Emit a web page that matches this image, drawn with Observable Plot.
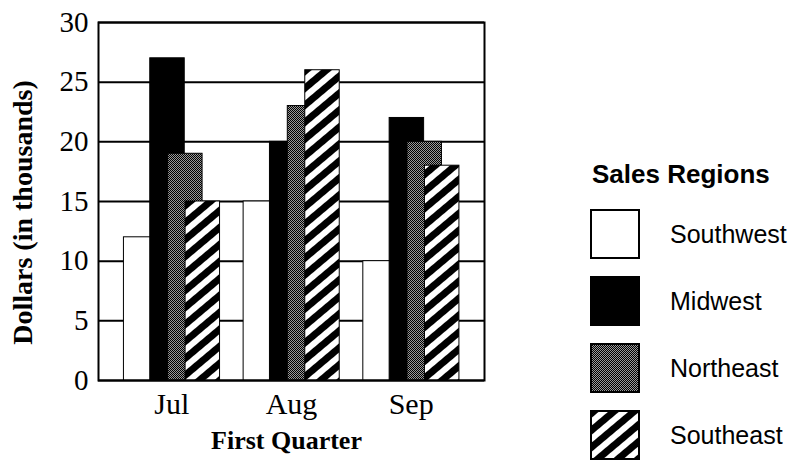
<!DOCTYPE html>
<html>
<head>
<meta charset="utf-8">
<script src="https://cdn.jsdelivr.net/npm/d3@7"></script>
<script src="https://cdn.jsdelivr.net/npm/@observablehq/plot@0.6"></script>
<style>
  body { margin: 0; background: #fff; }
  #wrap { position: relative; width: 796px; height: 460px; overflow: hidden; background: #fff; }
  #legend { position: absolute; left: 0; top: 0; width: 796px; height: 460px; pointer-events: none;
            font-family: "Liberation Sans", Arial, sans-serif; color: #000; }
  #legend .title { position: absolute; left: 592px; top: 159px; font-size: 26px; font-weight: bold; line-height: 30px; }
  #legend .item { position: absolute; left: 590px; width: 206px; height: 50px; }
  #legend .item svg { position: absolute; left: 0; top: 0; }
  #legend .item span { position: absolute; left: 80px; top: 0; line-height: 50px; font-size: 25px; white-space: nowrap; }
</style>
</head>
<body>
<div id="wrap"><div id="legend"></div></div>
<script>
// ---- data ----
const months = ["Jul", "Aug", "Sep"];
const regions = ["Southwest", "Midwest", "Northeast", "Southeast"];
const southwest = [12, 15, 10];
const midwest = [27, 20, 22];
const northeast = [19, 23, 20];
const southeast = [15, 26, 18];
const yTicks = [0, 5, 10, 15, 20, 25, 30];

// ---- layout (bars overlap within each month group) ----
const series = [southwest, midwest, northeast, southeast];
const barOffset = [-0.40, -0.18, -0.031, 0.115];
const barWidth = 0.288;
const fills = ["white", "black", "url(#dither)", "url(#hatch)"];

const rows = regions.flatMap((r, k) =>
  months.map((m, i) => ({region: r, k, i, month: m, value: series[k][i]}))
);

const barMarks = regions.map((r, k) =>
  Plot.rect(rows.filter(d => d.k === k), {
    x1: d => d.i + barOffset[k],
    x2: d => d.i + barOffset[k] + barWidth,
    y1: 0,
    y2: "value",
    fill: fills[k],
    stroke: "black",
    strokeWidth: 1
  })
);

const chart = Plot.plot({
  width: 796,
  height: 460,
  marginLeft: 98,
  marginRight: 312,
  marginTop: 22,
  marginBottom: 80,
  style: {background: "white", color: "black", fontFamily: "'Liberation Serif', 'Times New Roman', serif"},
  x: {type: "linear", domain: [-0.6125, months.length - 1 + 0.6125]},
  y: {domain: [0, 30]},
  marks: [
    Plot.gridY(yTicks, {stroke: "black", strokeOpacity: 1, strokeWidth: 2}),
    ...barMarks,
    Plot.frame({stroke: "black", strokeWidth: 2}),
    Plot.axisY(yTicks, {tickSize: 0, tickPadding: 10, fontSize: 29, label: null}),
    Plot.axisX(months.map((m, i) => i), {tickFormat: i => months[i], tickSize: 0, tickPadding: 12, fontSize: 30, label: null}),
    Plot.text(["First Quarter"], {text: d => d, frameAnchor: "bottom", textAnchor: "middle", lineAnchor: "top", dy: 50, dx: -5,
      fontSize: 26, fontWeight: "bold"}),
    Plot.text(["Dollars (in thousands)"], {text: d => d, frameAnchor: "left", textAnchor: "middle", lineAnchor: "middle",
      rotate: -90, dx: -75.5, dy: 11, fontSize: 28, fontWeight: "bold"})
  ]
});

const defs = `
  <pattern id="hatch" patternUnits="userSpaceOnUse" width="13" height="13" patternTransform="rotate(50)">
    <rect width="13" height="13" fill="white"/>
    <rect width="7" height="13" fill="black"/>
  </pattern>
  <pattern id="dither" patternUnits="userSpaceOnUse" width="2" height="2">
    <rect width="2" height="2" fill="#9a9a9a"/>
    <rect width="1" height="1" fill="black"/>
    <rect x="1" y="1" width="1" height="1" fill="black"/>
  </pattern>`;
d3.select(chart).insert("defs", ":first-child").html(defs);

document.getElementById("wrap").insertBefore(chart, document.getElementById("legend"));

// ---- legend ----
const legend = d3.select("#legend");
legend.append("div").attr("class", "title").text("Sales Regions");
regions.forEach((r, k) => {
  const item = legend.append("div").attr("class", "item").style("top", (209 + k * 67) + "px");
  const s = item.append("svg").attr("width", 50).attr("height", 50);
  s.append("rect").attr("x", 1).attr("y", 1).attr("width", 48).attr("height", 48)
    .attr("fill", fills[k]).attr("stroke", "black").attr("stroke-width", 2);
  item.append("span").text(r);
});
</script>
</body>
</html>
